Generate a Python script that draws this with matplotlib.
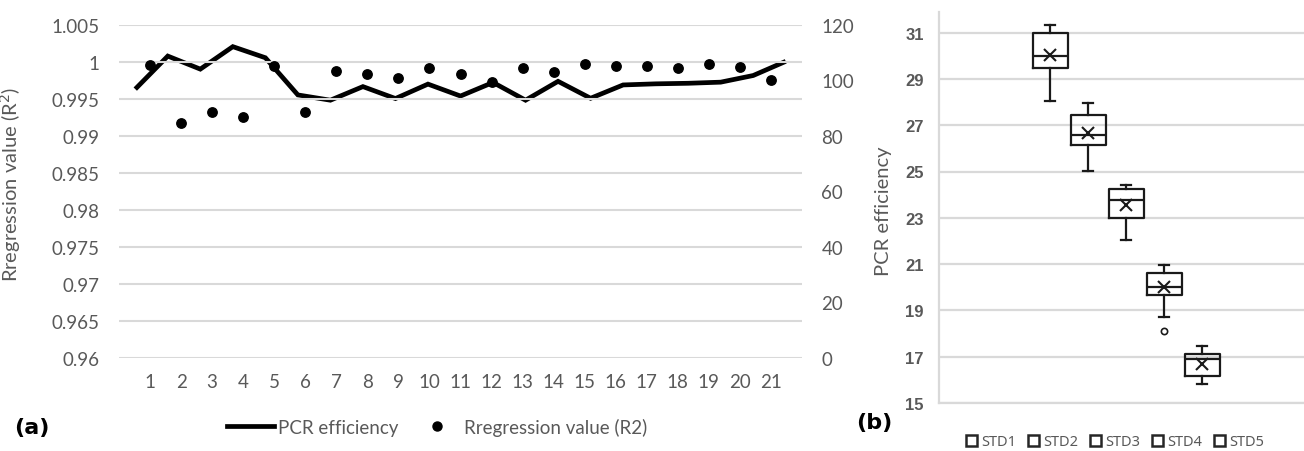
import matplotlib
matplotlib.use("Agg")
import matplotlib.pyplot as plt
from matplotlib.patches import Patch
from matplotlib.lines import Line2D
import numpy as np

# ---------------- data ----------------
runs = list(range(1, 22))
r2_values = [0.9996, 0.9918, 0.9932, 0.9926, 0.9995, 0.9932, 0.9988, 0.9984,
             0.9979, 0.9992, 0.9984, 0.9973, 0.9992, 0.9987, 0.9997, 0.9994,
             0.9994, 0.9992, 0.9997, 0.9993, 0.9976]
pcr_efficiency = [96.9, 108.8, 104.1, 112.2, 108.2, 94.8, 92.9, 97.8, 93.5, 98.7,
                  94.4, 99.3, 92.9, 99.7, 93.6, 98.4, 98.8, 99.0, 99.4, 101.8, 106.9]
left_ticks = [0.96, 0.965, 0.97, 0.975, 0.98, 0.985, 0.99, 0.995, 1.0, 1.005]
left_ticklabels = ["0.96", "0.965", "0.97", "0.975", "0.98", "0.985", "0.99", "0.995", "1", "1.005"]
right_ticks = [0, 20, 40, 60, 80, 100, 120]

std_names = ["STD1", "STD2", "STD3", "STD4", "STD5"]
std_whislo = [28.04, 25.04, 22.02, 18.73, 15.83]
std_q1 = [29.45, 26.16, 22.97, 19.68, 16.16]
std_med = [29.98, 26.59, 23.79, 20.00, 16.90]
std_q3 = [31.00, 27.46, 24.26, 20.61, 17.13]
std_whishi = [31.32, 27.96, 24.43, 20.98, 17.48]
std_mean = [30.05, 26.67, 23.54, 20.01, 16.69]
std_fliers = [[], [], [], [18.1], []]
b_ticks = [15, 17, 19, 21, 23, 25, 27, 29, 31]

# ---------------- figure ----------------
W, H = 1304, 452
fig = plt.figure(figsize=(W / 100, H / 100), dpi=100)
fontA = "Lato"
fontB = "Noto Sans"
fontBold = "Liberation Sans"
grey = "#595959"
gridc = "#d9d9d9"

def fx(px):
    return px / W

def fy(py):
    return 1 - py / H

# ---- panel (a) ----
ax = fig.add_axes([fx(119), fy(359), fx(802) - fx(119), fy(26) - fy(359)])
ax.set_xlim(0, 22)
ax.set_ylim(0.96, 1.005)
ax.set_yticks(left_ticks)
ax.set_yticklabels(left_ticklabels)
ax.set_xticks(runs)
ax.set_xticklabels([str(r) for r in runs])
for s in ax.spines.values():
    s.set_visible(False)
ax.grid(axis="y", color=gridc, linewidth=1.5)
ax.set_axisbelow(True)
ax.tick_params(axis="both", length=0, labelcolor=grey, labelsize=13.5)
ax.tick_params(axis="y", pad=14)
ax.tick_params(axis="x", pad=11)
for lab in ax.get_xticklabels() + ax.get_yticklabels():
    lab.set_fontfamily(fontA)
ax.set_ylabel("Rregression value (R$^2$)", fontsize=14.5, color=grey, fontfamily=fontA)
ax.yaxis.set_label_coords(-0.141, 0.525)

ax2 = ax.twinx()
ax2.set_ylim(0, 120)
ax2.set_yticks(right_ticks)
for s in ax2.spines.values():
    s.set_visible(False)
ax2.tick_params(axis="y", length=0, labelcolor=grey, labelsize=13.5, pad=14)
for lab in ax2.get_yticklabels():
    lab.set_fontfamily(fontA)
ax2.set_ylabel("PCR efficiency", fontsize=14.5, color=grey, fontfamily=fontA)
ax2.yaxis.set_label_coords(1.107, 0.445)

n = len(pcr_efficiency)
line_x = (np.arange(n) + 0.5) * 22 / n
ax2.plot(line_x, pcr_efficiency, color="black", linewidth=3.4, solid_joinstyle="miter",
         solid_capstyle="butt", zorder=3)
ax.scatter(runs, r2_values, s=46, color="black", zorder=4)
ax.set_zorder(ax2.get_zorder() + 1)
ax.patch.set_visible(False)

handles_a = [Line2D([], [], color="black", linewidth=3.4),
             Line2D([], [], color="black", marker="o", linestyle="none", markersize=6.5)]
fig.legend(handles_a, ["PCR efficiency", "Rregression value (R2)"], loc="center",
           bbox_to_anchor=(fx(437), fy(428)), ncol=2, frameon=False,
           prop={"family": fontA, "size": 13.5}, labelcolor=grey,
           handlelength=2.5, handletextpad=0.2, columnspacing=0.8)
fig.text(fx(14), fy(428), "(a)", fontsize=16, fontweight="bold", fontfamily="DejaVu Sans",
         ha="left", va="center")

# ---- panel (b) ----
bx = fig.add_axes([fx(939), fy(404), fx(1304) - fx(939), fy(12.7) - fy(404)])
positions = np.arange(1, 6)
stats = []
for i in range(5):
    stats.append(dict(med=std_med[i], q1=std_q1[i], q3=std_q3[i], whislo=std_whislo[i],
                      whishi=std_whishi[i], mean=std_mean[i], fliers=std_fliers[i],
                      label=std_names[i]))
lc = "#1a1a1a"
bx.bxp(stats, positions=positions, widths=35 / 38, capwidths=10 / 38, showmeans=True,
       boxprops=dict(color=lc, linewidth=1.6),
       whiskerprops=dict(color=lc, linewidth=1.6),
       capprops=dict(color=lc, linewidth=1.6),
       medianprops=dict(color=lc, linewidth=1.6),
       meanprops=dict(marker="x", markeredgecolor=lc, markersize=8, markeredgewidth=1.5),
       flierprops=dict(marker="o", markerfacecolor="white", markeredgecolor=lc,
                       markersize=4.5, markeredgewidth=1.2))
bx.set_xlim(1 - (1050 - 939) / 38, 1 + (1304 - 1050) / 38)
bx.set_ylim(15, 15 + (404 - 12.7) / 23.15)
bx.set_yticks(b_ticks)
bx.set_xticks([])
bx.grid(axis="y", color=gridc, linewidth=1.6)
bx.set_axisbelow(True)
for k in ["top", "right"]:
    bx.spines[k].set_visible(False)
bx.spines["left"].set_color(gridc)
bx.spines["left"].set_linewidth(1.6)
bx.spines["bottom"].set_color(gridc)
bx.spines["bottom"].set_linewidth(1.6)
bx.tick_params(axis="y", length=0, labelcolor=grey, labelsize=12, pad=11)
for lab in bx.get_yticklabels():
    lab.set_fontfamily(fontBold)
    lab.set_fontweight("bold")

handles_b = [Patch(facecolor="white", edgecolor="#262626", linewidth=1.8) for _ in std_names]
fig.legend(handles_b, std_names, loc="center", bbox_to_anchor=(fx(1115), fy(443)),
           ncol=5, frameon=False, prop={"family": fontB, "size": 10.5}, labelcolor=grey,
           handlelength=0.75, handleheight=0.75, handletextpad=0.3, columnspacing=0.8)
fig.text(fx(856), fy(423), "(b)", fontsize=16, fontweight="bold", fontfamily="DejaVu Sans",
         ha="left", va="center")

fig.savefig("out.png", dpi=100)
